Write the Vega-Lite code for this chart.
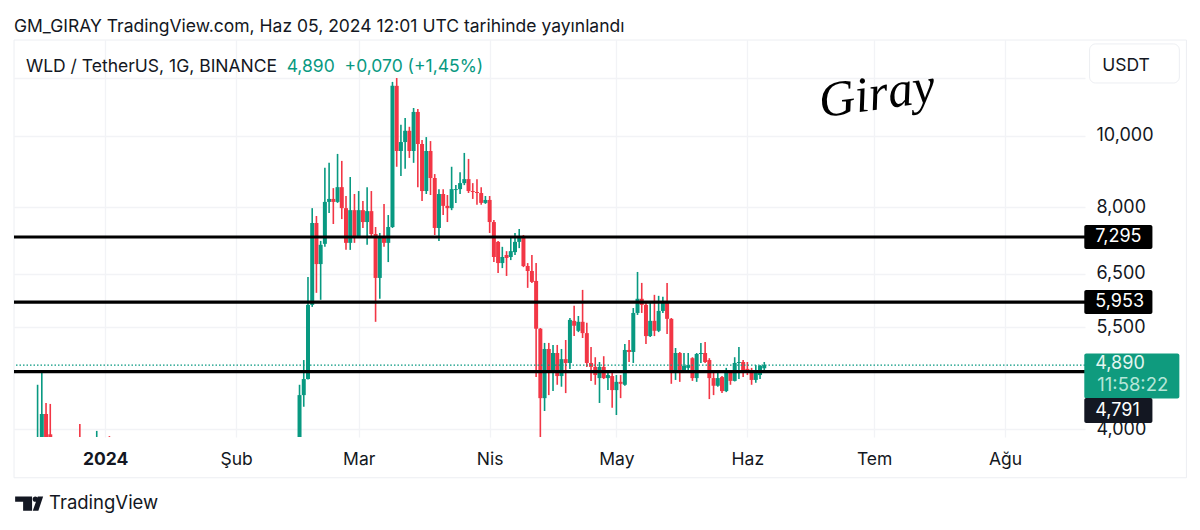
{
  "$schema": "https://vega.github.io/schema/vega-lite/v6.json",
  "width": 1071,
  "height": 397,
  "autosize": {"type": "none"},
  "padding": {"left": 14, "top": 40, "right": 115, "bottom": 93},
  "background": "white",
  "title": {
    "text": "GM_GIRAY TradingView.com, Haz 05, 2024 12:01 UTC tarihinde yayınlandı",
    "anchor": "start",
    "frame": "group",
    "offset": 4,
    "font": "Inter",
    "fontSize": 17.5,
    "fontWeight": "normal",
    "color": "#131722"
  },
  "datasets": {
    "candles": [
      {"date":"2023-12-16","open":3400,"high":4599,"low":3300,"close":3600},
      {"date":"2023-12-17","open":3700,"high":4786,"low":3600,"close":4198},
      {"date":"2023-12-18","open":4198,"high":4345,"low":3600,"close":3700},
      {"date":"2023-12-19","open":3940,"high":4332,"low":3700,"close":3750},
      {"date":"2023-12-26","open":3700,"high":4068,"low":3400,"close":3500},
      {"date":"2023-12-30","open":3400,"high":3982,"low":3300,"close":3600},
      {"date":"2024-01-02","open":3700,"high":3918,"low":3400,"close":3500},
      {"date":"2024-02-16","open":3810,"high":4599,"low":3700,"close":4453},
      {"date":"2024-02-17","open":4453,"high":4968,"low":4294,"close":4682},
      {"date":"2024-02-18","open":4682,"high":6440,"low":4677,"close":5902},
      {"date":"2024-02-19","open":5902,"high":7983,"low":5865,"close":7621},
      {"date":"2024-02-20","open":7621,"high":7789,"low":6128,"close":6704},
      {"date":"2024-02-21","open":6704,"high":7207,"low":5996,"close":7119},
      {"date":"2024-02-22","open":7141,"high":9056,"low":7075,"close":8140},
      {"date":"2024-02-23","open":8140,"high":9196,"low":7861,"close":8216},
      {"date":"2024-02-24","open":8216,"high":8498,"low":7597,"close":8140},
      {"date":"2024-02-25","open":8140,"high":9456,"low":8115,"close":8524},
      {"date":"2024-02-26","open":8524,"high":9252,"low":7715,"close":7983},
      {"date":"2024-02-27","open":7983,"high":8291,"low":7008,"close":7163},
      {"date":"2024-02-28","open":7163,"high":8798,"low":7008,"close":7933},
      {"date":"2024-02-29","open":7933,"high":8343,"low":7163,"close":7318},
      {"date":"2024-03-01","open":7318,"high":8421,"low":7295,"close":7933},
      {"date":"2024-03-02","open":7933,"high":8165,"low":7504,"close":7644},
      {"date":"2024-03-03","open":7644,"high":8524,"low":7119,"close":7909},
      {"date":"2024-03-04","open":7909,"high":8421,"low":7295,"close":7364},
      {"date":"2024-03-05","open":7364,"high":7527,"low":5598,"close":6420},
      {"date":"2024-03-06","open":6420,"high":7387,"low":6015,"close":7295},
      {"date":"2024-03-07","open":7318,"high":8090,"low":7075,"close":7163},
      {"date":"2024-03-08","open":7163,"high":7813,"low":6746,"close":7527},
      {"date":"2024-03-09","open":7527,"high":11840,"low":7504,"close":11695},
      {"date":"2024-03-10","open":11695,"high":11985,"low":9084,"close":9543},
      {"date":"2024-03-11","open":9543,"high":10356,"low":8825,"close":9813},
      {"date":"2024-03-12","open":9813,"high":10582,"low":9028,"close":10164},
      {"date":"2024-03-13","open":10164,"high":10292,"low":9338,"close":9543},
      {"date":"2024-03-14","open":9543,"high":10914,"low":9196,"close":10780},
      {"date":"2024-03-15","open":10780,"high":10880,"low":8524,"close":9753},
      {"date":"2024-03-16","open":9753,"high":9873,"low":8165,"close":8421},
      {"date":"2024-03-17","open":8421,"high":9966,"low":8343,"close":9543},
      {"date":"2024-03-18","open":9543,"high":9843,"low":8317,"close":8771},
      {"date":"2024-03-19","open":8771,"high":8879,"low":7341,"close":7504},
      {"date":"2024-03-20","open":7504,"high":8471,"low":7207,"close":8343},
      {"date":"2024-03-21","open":8343,"high":8471,"low":7813,"close":8040},
      {"date":"2024-03-22","open":8040,"high":8317,"low":7644,"close":7983},
      {"date":"2024-03-23","open":7983,"high":9084,"low":7933,"close":8471},
      {"date":"2024-03-24","open":8447,"high":8578,"low":8115,"close":8471},
      {"date":"2024-03-25","open":8471,"high":8933,"low":8343,"close":8632},
      {"date":"2024-03-26","open":8632,"high":9485,"low":8578,"close":8740},
      {"date":"2024-03-27","open":8740,"high":9309,"low":8369,"close":8421},
      {"date":"2024-03-28","open":8421,"high":8632,"low":8216,"close":8395},
      {"date":"2024-03-29","open":8395,"high":8740,"low":8065,"close":8369},
      {"date":"2024-03-30","open":8369,"high":8524,"low":8065,"close":8115},
      {"date":"2024-03-31","open":8115,"high":8291,"low":8090,"close":8190},
      {"date":"2024-04-01","open":8190,"high":8291,"low":7387,"close":7644},
      {"date":"2024-04-02","open":7644,"high":7691,"low":6746,"close":6854},
      {"date":"2024-04-03","open":7185,"high":7207,"low":6521,"close":6725},
      {"date":"2024-04-04","open":6725,"high":7075,"low":6620,"close":6854},
      {"date":"2024-04-05","open":6896,"high":6980,"low":6460,"close":6833},
      {"date":"2024-04-06","open":6854,"high":7272,"low":6788,"close":6980},
      {"date":"2024-04-07","open":6959,"high":7387,"low":6896,"close":7185},
      {"date":"2024-04-08","open":7185,"high":7480,"low":7046,"close":7272},
      {"date":"2024-04-09","open":7295,"high":7341,"low":6641,"close":6662},
      {"date":"2024-04-10","open":6662,"high":6725,"low":6224,"close":6561},
      {"date":"2024-04-11","open":6561,"high":6896,"low":6321,"close":6341},
      {"date":"2024-04-12","open":6360,"high":6725,"low":4711,"close":5479},
      {"date":"2024-04-13","open":5479,"high":5491,"low":3820,"close":4411},
      {"date":"2024-04-14","open":4411,"high":5241,"low":4237,"close":5143},
      {"date":"2024-04-15","open":5143,"high":5241,"low":4453,"close":4786},
      {"date":"2024-04-16","open":4786,"high":5208,"low":4509,"close":5079},
      {"date":"2024-04-17","open":5079,"high":5208,"low":4599,"close":4726},
      {"date":"2024-04-18","open":4726,"high":5143,"low":4571,"close":4982},
      {"date":"2024-04-19","open":4982,"high":5289,"low":4481,"close":4923},
      {"date":"2024-04-20","open":4923,"high":5665,"low":4833,"close":5632},
      {"date":"2024-04-21","open":5615,"high":5884,"low":5354,"close":5530},
      {"date":"2024-04-22","open":5443,"high":5701,"low":5421,"close":5598},
      {"date":"2024-04-23","open":5598,"high":6185,"low":5322,"close":5404},
      {"date":"2024-04-24","open":5404,"high":5581,"low":4863,"close":4923},
      {"date":"2024-04-25","open":4923,"high":5175,"low":4655,"close":4863},
      {"date":"2024-04-26","open":4863,"high":5012,"low":4599,"close":4741},
      {"date":"2024-04-27","open":4696,"high":4938,"low":4345,"close":4863},
      {"date":"2024-04-28","open":4863,"high":5028,"low":4682,"close":4696},
      {"date":"2024-04-29","open":4696,"high":4786,"low":4523,"close":4741},
      {"date":"2024-04-30","open":4726,"high":4771,"low":4281,"close":4523},
      {"date":"2024-05-01","open":4523,"high":4741,"low":4185,"close":4641},
      {"date":"2024-05-02","open":4641,"high":4741,"low":4411,"close":4613},
      {"date":"2024-05-03","open":4599,"high":5225,"low":4585,"close":5127},
      {"date":"2024-05-04","open":5127,"high":5289,"low":4938,"close":5095},
      {"date":"2024-05-05","open":5095,"high":5845,"low":4923,"close":5755},
      {"date":"2024-05-06","open":5755,"high":6541,"low":5719,"close":6015},
      {"date":"2024-05-07","open":6015,"high":6321,"low":5755,"close":5902},
      {"date":"2024-05-08","open":5902,"high":5960,"low":5225,"close":5354},
      {"date":"2024-05-09","open":5354,"high":5942,"low":5338,"close":5615},
      {"date":"2024-05-10","open":5615,"high":6090,"low":5354,"close":5443},
      {"date":"2024-05-11","open":5443,"high":6071,"low":5421,"close":5791},
      {"date":"2024-05-12","open":5791,"high":6052,"low":5755,"close":5960},
      {"date":"2024-05-13","open":5960,"high":6321,"low":5387,"close":5650},
      {"date":"2024-05-14","open":5650,"high":5665,"low":4613,"close":4786},
      {"date":"2024-05-15","open":4786,"high":5159,"low":4669,"close":5079},
      {"date":"2024-05-16","open":5079,"high":5095,"low":4641,"close":4816},
      {"date":"2024-05-17","open":4816,"high":5079,"low":4801,"close":4878},
      {"date":"2024-05-18","open":4848,"high":5079,"low":4801,"close":4893},
      {"date":"2024-05-19","open":4997,"high":5012,"low":4655,"close":4696},
      {"date":"2024-05-20","open":4696,"high":5079,"low":4641,"close":5063},
      {"date":"2024-05-21","open":5063,"high":5241,"low":4923,"close":5079},
      {"date":"2024-05-22","open":5079,"high":5257,"low":4923,"close":4938},
      {"date":"2024-05-23","open":4968,"high":4997,"low":4398,"close":4696},
      {"date":"2024-05-24","open":4696,"high":4786,"low":4453,"close":4585},
      {"date":"2024-05-25","open":4585,"high":4786,"low":4571,"close":4696},
      {"date":"2024-05-26","open":4711,"high":4726,"low":4481,"close":4509},
      {"date":"2024-05-27","open":4509,"high":4848,"low":4495,"close":4786},
      {"date":"2024-05-28","open":4801,"high":4816,"low":4599,"close":4655},
      {"date":"2024-05-29","open":4655,"high":5012,"low":4647,"close":4923},
      {"date":"2024-05-30","open":4923,"high":5175,"low":4682,"close":4938},
      {"date":"2024-05-31","open":4938,"high":4968,"low":4711,"close":4816},
      {"date":"2024-06-01","open":4833,"high":4938,"low":4741,"close":4771},
      {"date":"2024-06-02","open":4786,"high":4848,"low":4599,"close":4669},
      {"date":"2024-06-03","open":4669,"high":4893,"low":4627,"close":4801},
      {"date":"2024-06-04","open":4741,"high":4893,"low":4682,"close":4878},
      {"date":"2024-06-05","open":4842,"high":4938,"low":4786,"close":4890}
    ],
    "levels": [
      {"price": 7295, "label": "7,295"},
      {"price": 5953, "label": "5,953"}
    ]
  },
  "layer": [
    {
      "data": {"values": [{"frame": "chart"}]},
      "mark": {"type": "rect", "fill": null, "stroke": "#eceef2", "strokeWidth": 1, "clip": false},
      "encoding": {
        "x": {"datum": {"year": 2023, "month": 12, "date": 10, "hours": 10, "utc": true}, "type": "temporal"},
        "x2": {"datum": {"year": 2024, "month": 9, "date": 12, "hours": 22, "utc": true}},
        "y": {"datum": 13495, "type": "quantitative"},
        "y2": {"datum": 3440}
      }
    },
    {
      "data": {"name": "candles"},
      "mark": {"type": "rule", "strokeWidth": 1.6, "clip": true},
      "encoding": {
        "x": {
          "field": "date",
          "type": "temporal",
          "scale": {
            "type": "utc",
            "nice": false,
            "padding": 0,
            "domain": [
              {"year": 2023, "month": 12, "date": 10, "hours": 10, "utc": true},
              {"year": 2024, "month": 8, "date": 19, "hours": 22, "utc": true}
            ]
          },
          "axis": {
            "title": null,
            "values": [
              {"year": 2024, "month": 1, "date": 1, "utc": true},
              {"year": 2024, "month": 2, "date": 1, "utc": true},
              {"year": 2024, "month": 3, "date": 1, "utc": true},
              {"year": 2024, "month": 4, "date": 1, "utc": true},
              {"year": 2024, "month": 5, "date": 1, "utc": true},
              {"year": 2024, "month": 6, "date": 1, "utc": true},
              {"year": 2024, "month": 7, "date": 1, "utc": true},
              {"year": 2024, "month": 8, "date": 1, "utc": true}
            ],
            "labelExpr": "['2024','Şub','Mar','Nis','May','Haz','Tem','Ağu'][utcmonth(datum.value)]",
            "labelFontWeight": {"condition": {"test": "utcmonth(datum.value)==0", "value": "bold"}, "value": "normal"},
            "labelFont": "Inter",
            "labelFontSize": 17.5,
            "labelColor": "#131722",
            "labelPadding": 13,
            "labelFlush": false,
            "labelOverlap": false,
            "ticks": false,
            "domain": false,
            "grid": true,
            "gridColor": "#f2f3f6",
            "gridWidth": 1.3
          }
        },
        "y": {
          "field": "high",
          "type": "quantitative",
          "scale": {"type": "log", "nice": false, "padding": 0, "domain": [3907, 13495]},
          "axis": {
            "title": null,
            "orient": "right",
            "values": [4000, 5500, 6500, 8000, 10000, 12000],
            "labelExpr": "datum.value==12000?'':format(datum.value,',')",
            "labelFont": "Inter",
            "labelFontSize": 18,
            "labelColor": "#131722",
            "labelPadding": 11,
            "labelOverlap": false,
            "ticks": false,
            "domain": false,
            "grid": true,
            "gridColor": "#f2f3f6",
            "gridWidth": 1.3
          }
        },
        "y2": {"field": "low"},
        "color": {"condition": {"test": "datum.close>=datum.open", "value": "#089981"}, "value": "#F23645"}
      }
    },
    {
      "data": {"name": "candles"},
      "mark": {"type": "bar", "width": 4, "clip": true},
      "encoding": {
        "x": {"field": "date", "type": "temporal"},
        "y": {"field": "open", "type": "quantitative"},
        "y2": {"field": "close"},
        "color": {"condition": {"test": "datum.close>=datum.open", "value": "#089981"}, "value": "#F23645"}
      }
    },
    {
      "data": {"values": [{"price": 4890}]},
      "mark": {"type": "rule", "stroke": "#089981", "strokeWidth": 1.2, "strokeDash": [1.5, 2]},
      "encoding": {"y": {"field": "price", "type": "quantitative"}}
    },
    {
      "data": {"values": [{"price": 7295}, {"price": 5953}, {"price": 4791}]},
      "mark": {"type": "rule", "stroke": "#000000", "strokeWidth": 3.2},
      "encoding": {"y": {"field": "price", "type": "quantitative"}}
    },
    {
      "data": {"values": [{"label": "WLD / TetherUS, 1G, BINANCE"}]},
      "mark": {"type": "text", "align": "left", "baseline": "middle", "font": "Inter", "fontSize": 17.5, "color": "#131722", "dx": 1, "clip": false},
      "encoding": {
        "x": {"datum": {"year": 2023, "month": 12, "date": 13, "utc": true}, "type": "temporal"},
        "y": {"datum": 12400, "type": "quantitative"},
        "text": {"field": "label"}
      }
    },
    {
      "data": {"values": [{"label": "4,890 \u00a0+0,070 (+1,45%)"}]},
      "mark": {"type": "text", "align": "left", "baseline": "middle", "font": "Inter", "fontSize": 17.5, "color": "#089981", "dx": 4, "clip": false},
      "encoding": {
        "x": {"datum": {"year": 2024, "month": 2, "date": 12, "utc": true}, "type": "temporal"},
        "y": {"datum": 12400, "type": "quantitative"},
        "text": {"field": "label"}
      }
    },
    {
      "data": {"values": [{"label": "Giray"}]},
      "mark": {"type": "text", "align": "left", "baseline": "middle", "font": "Liberation Serif", "fontStyle": "italic", "fontSize": 50, "angle": 352, "color": "#000000", "clip": false},
      "encoding": {
        "x": {"datum": {"year": 2024, "month": 6, "date": 18, "utc": true}, "type": "temporal"},
        "y": {"datum": 11100, "type": "quantitative"},
        "text": {"field": "label"}
      }
    },
    {
      "data": {"values": [{"label": "USDT"}]},
      "mark": {"type": "rect", "fill": "white", "stroke": "#eceef2", "strokeWidth": 1, "cornerRadius": 6, "clip": false},
      "encoding": {
        "x": {"datum": {"year": 2024, "month": 8, "date": 21, "hours": 0, "utc": true}, "type": "temporal"},
        "x2": {"datum": {"year": 2024, "month": 9, "date": 11, "hours": 6, "utc": true}},
        "y": {"datum": 13330, "type": "quantitative"},
        "y2": {"datum": 11800}
      }
    },
    {
      "data": {"values": [{"label": "USDT"}]},
      "mark": {"type": "text", "align": "left", "baseline": "middle", "font": "Inter", "fontSize": 17.5, "color": "#131722", "clip": false},
      "encoding": {
        "x": {"datum": {"year": 2024, "month": 8, "date": 24, "utc": true}, "type": "temporal"},
        "y": {"datum": 12450, "type": "quantitative"},
        "text": {"field": "label"}
      }
    },
    {
      "data": {"name": "levels"},
      "mark": {"type": "bar", "height": 24, "cornerRadius": 2, "color": "#000000", "clip": false},
      "encoding": {
        "x": {"datum": {"year": 2024, "month": 8, "date": 19, "hours": 18, "utc": true}, "type": "temporal"},
        "x2": {"datum": {"year": 2024, "month": 9, "date": 4, "hours": 21, "utc": true}},
        "y": {"field": "price", "type": "quantitative"}
      }
    },
    {
      "data": {"name": "levels"},
      "mark": {"type": "text", "align": "left", "baseline": "middle", "font": "Inter", "fontSize": 18, "color": "#ffffff", "dx": 11, "clip": false},
      "encoding": {
        "x": {"datum": {"year": 2024, "month": 8, "date": 19, "hours": 18, "utc": true}, "type": "temporal"},
        "y": {"field": "price", "type": "quantitative"},
        "text": {"field": "label"}
      }
    },
    {
      "data": {"values": [{"label": "4,890"}]},
      "mark": {"type": "bar", "height": 45, "cornerRadius": 2, "color": "#0F9B7E", "clip": false},
      "encoding": {
        "x": {"datum": {"year": 2024, "month": 8, "date": 19, "hours": 18, "utc": true}, "type": "temporal"},
        "x2": {"datum": {"year": 2024, "month": 9, "date": 11, "hours": 6, "utc": true}},
        "y": {"datum": 4727, "type": "quantitative"}
      }
    },
    {
      "data": {"values": [{"label": "4,791"}]},
      "mark": {"type": "bar", "height": 25, "cornerRadius": 2, "color": "#131722", "clip": false},
      "encoding": {
        "x": {"datum": {"year": 2024, "month": 8, "date": 19, "hours": 18, "utc": true}, "type": "temporal"},
        "x2": {"datum": {"year": 2024, "month": 9, "date": 4, "hours": 21, "utc": true}},
        "y": {"datum": 4244, "type": "quantitative"}
      }
    },
    {
      "data": {"values": [{"label": "4,791"}]},
      "mark": {"type": "text", "align": "left", "baseline": "middle", "font": "Inter", "fontSize": 18, "color": "#ffffff", "dx": 11, "clip": false},
      "encoding": {
        "x": {"datum": {"year": 2024, "month": 8, "date": 19, "hours": 18, "utc": true}, "type": "temporal"},
        "y": {"datum": 4244, "type": "quantitative"},
        "text": {"field": "label"}
      }
    },
    {
      "data": {"values": [{"label": "4,890"}]},
      "mark": {"type": "text", "align": "left", "baseline": "middle", "font": "Inter", "fontSize": 18, "color": "#e3f6f0", "dx": 11, "clip": false},
      "encoding": {
        "x": {"datum": {"year": 2024, "month": 8, "date": 19, "hours": 18, "utc": true}, "type": "temporal"},
        "y": {"datum": 4905, "type": "quantitative"},
        "text": {"field": "label"}
      }
    },
    {
      "data": {"values": [{"label": "11:58:22"}]},
      "mark": {"type": "text", "align": "left", "baseline": "middle", "font": "Inter", "fontSize": 18.5, "color": "#b5e6d8", "dx": 13, "clip": false},
      "encoding": {
        "x": {"datum": {"year": 2024, "month": 8, "date": 19, "hours": 18, "utc": true}, "type": "temporal"},
        "y": {"datum": 4596, "type": "quantitative"},
        "text": {"field": "label"}
      }
    },
    {
      "data": {"values": [{"brand": "TradingView"}]},
      "mark": {
        "type": "point",
        "shape": "M-1,-.52H.21V.5H-.43V-.14H-1ZM.25,-.33A.19,.19 0 1 1 .63,-.33A.19,.19 0 1 1 .25,-.33ZM.62,-.52H1L.66,.5H.26Z",
        "size": 784,
        "filled": true,
        "color": "#131722",
        "opacity": 1,
        "clip": false
      },
      "encoding": {
        "x": {"datum": {"year": 2023, "month": 12, "date": 14, "utc": true}, "type": "temporal"},
        "y": {"datum": 3172, "type": "quantitative"}
      }
    },
    {
      "data": {"values": [{"brand": "TradingView"}]},
      "mark": {"type": "text", "align": "left", "baseline": "middle", "font": "Inter", "fontSize": 18.5, "color": "#131722", "dx": 3, "clip": false},
      "encoding": {
        "x": {"datum": {"year": 2023, "month": 12, "date": 18, "utc": true}, "type": "temporal"},
        "y": {"datum": 3180, "type": "quantitative"},
        "text": {"field": "brand"}
      }
    }
  ],
  "config": {"view": {"stroke": null}}
}
